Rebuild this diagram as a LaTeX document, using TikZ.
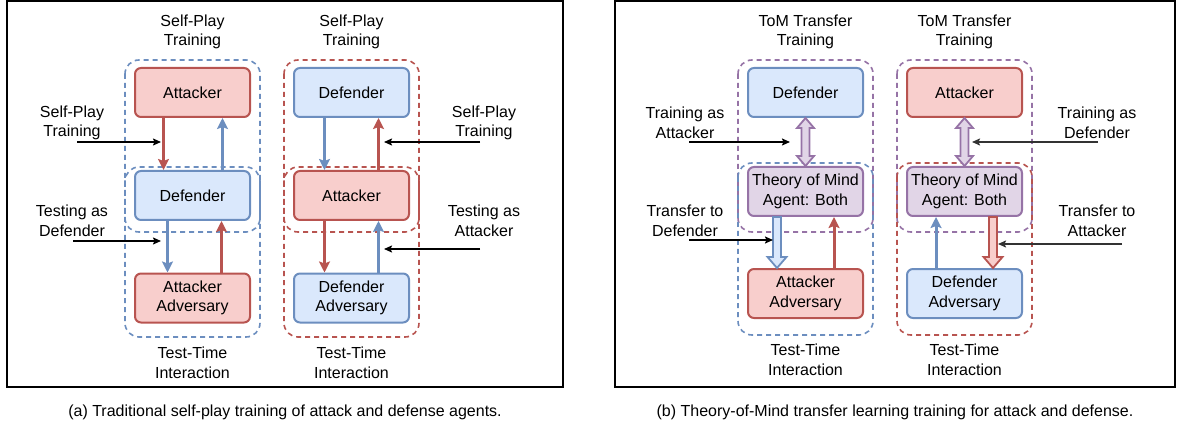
\documentclass[tikz,border=0pt]{standalone}
\usepackage{fontspec}
\setmainfont{Liberation Sans}
\usetikzlibrary{arrows.meta,calc}
\definecolor{redF}{HTML}{F8CECC}
\definecolor{redD}{HTML}{B85450}
\definecolor{blueF}{HTML}{DAE8FC}
\definecolor{blueD}{HTML}{6C8EBF}
\definecolor{purF}{HTML}{E1D5E7}
\definecolor{purD}{HTML}{9673A6}
\newcommand\hollowdown[3]{%
  \draw[#3] let \p1=(#1), \p2=(#2) in
   (\x1-4pt,\y1) -- (\x1-4pt,\y2+11pt) -- (\x1-9.5pt,\y2+11pt) -- (\x1,\y2)
   -- (\x1+9.5pt,\y2+11pt) -- (\x1+4pt,\y2+11pt) -- (\x1+4pt,\y1) -- cycle;}
\newcommand\hollowboth[3]{%
  \draw[#3] let \p1=(#1), \p2=(#2) in
   (\x1,\y1) -- (\x1+8.5pt,\y1-10pt) -- (\x1+4pt,\y1-10pt) -- (\x1+4pt,\y2+10pt)
   -- (\x1+8.5pt,\y2+10pt) -- (\x1,\y2) -- (\x1-8.5pt,\y2+10pt) -- (\x1-4pt,\y2+10pt)
   -- (\x1-4pt,\y1-10pt) -- (\x1-8.5pt,\y1-10pt) -- cycle;}
\begin{document}
\begin{tikzpicture}[x=1pt,y=-1pt,
  txt/.style={font=\fontsize{16}{19.5}\selectfont, align=center, inner sep=0pt},
  agent/.style={txt, rounded corners=6pt, line width=2pt, minimum width=115pt, minimum height=49pt},
  redbox/.style={agent, fill=redF, draw=redD},
  bluebox/.style={agent, fill=blueF, draw=blueD},
  purbox/.style={agent, fill=purF, draw=purD},
  grp/.style={line width=1.6pt, dash pattern=on 5pt off 4pt, rounded corners=14pt},
  flow/.style={line width=3pt, -{Stealth[length=11pt,width=11pt,inset=2pt]}},
  lbl/.style={line width=1.6pt, -{Stealth[length=8pt,width=7pt,inset=1.5pt]}},
  hollowR/.style={line width=1.8pt, draw=redD, fill=redF},
  hollowB/.style={line width=1.8pt, draw=blueD, fill=blueF},
  hollowP/.style={line width=1.8pt, draw=purD, fill=purF}
]
\useasboundingbox (0,0) rectangle (1177,430);
% panel frames
\draw[line width=2pt] (7,1) rectangle (563,387);
\draw[line width=2pt] (615,1) rectangle (1175,387);

% groups
\draw[grp, blueD] (125,60) rectangle (260,232);
\draw[grp, blueD] (125,167) rectangle (260,337);
\draw[grp, redD] (284,60) rectangle (419,232);
\draw[grp, redD] (284,167) rectangle (419,337);
\draw[grp, purD] (738,60) rectangle (873,232);
\draw[grp, blueD] (738,163) rectangle (873,335);
\draw[grp, purD] (897,60) rectangle (1032,232);
\draw[grp, redD] (897,163) rectangle (1032,335);

% column 1
\node[redbox] (att1) at (192.5,92.5) {Attacker};
\node[bluebox] (def1) at (192.5,195.5) {Defender};
\node[redbox] (adv1) at (192.5,298) {Attacker\\Adversary};
\node[txt] (sp1) at (192.5,32) {Self-Play\\Training};
\node[txt] (tt1) at (192.5,363) {Test-Time\\Interaction};
\draw[flow, redD] ($(att1.south)+(-29,0)$) -- ($(def1.north)+(-29,0)$);
\draw[flow, blueD] ($(def1.north)+(30,0)$) -- ($(att1.south)+(30,0)$);
\draw[flow, blueD] ($(def1.south)+(-25,0)$) -- ($(adv1.north)+(-25,0)$);
\draw[flow, redD] ($(adv1.north)+(29,0)$) -- ($(def1.south)+(29,0)$);
\node[txt] (l1a) at (72,123) {Self-Play\\Training};
\node[txt] (l1b) at (72,221) {Testing as\\Defender};
\coordinate (s1a) at (77,142);
\coordinate (e1a) at (161,142);
\coordinate (s1b) at (73,241);
\coordinate (e1b) at (161,241);
\draw[lbl] (s1a) -- (e1a);
\draw[lbl] (s1b) -- (e1b);

% column 2
\node[bluebox] (def2) at (351.5,92.5) {Defender};
\node[redbox] (att2) at (351.5,195.5) {Attacker};
\node[bluebox] (adv2) at (351.5,298) {Defender\\Adversary};
\node[txt] (sp2) at (351.5,32) {Self-Play\\Training};
\node[txt] (tt2) at (351.5,363) {Test-Time\\Interaction};
\draw[flow, blueD] ($(def2.south)+(-27,0)$) -- ($(att2.north)+(-27,0)$);
\draw[flow, redD] ($(att2.north)+(27,0)$) -- ($(def2.south)+(27,0)$);
\draw[flow, redD] ($(att2.south)+(-27,0)$) -- ($(adv2.north)+(-27,0)$);
\draw[flow, blueD] ($(adv2.north)+(27,0)$) -- ($(att2.south)+(27,0)$);
\node[txt] (l2a) at (484,123) {Self-Play\\Training};
\node[txt] (l2b) at (484,221) {Testing as\\Attacker};
\coordinate (s2a) at (480,142);
\coordinate (e2a) at (384,142);
\coordinate (s2b) at (480,249);
\coordinate (e2b) at (384,249);
\draw[lbl] (s2a) -- (e2a);
\draw[lbl] (s2b) -- (e2b);

% column 3
\node[bluebox] (def3) at (805.5,92.5) {Defender};
\node[purbox] (tom3) at (805.5,191.5) {Theory of Mind\\Agent: Both};
\node[redbox] (adv3) at (805.5,293.5) {Attacker\\Adversary};
\node[txt] (tr3) at (805.5,32) {ToM Transfer\\Training};
\node[txt] (tt3) at (805.5,360) {Test-Time\\Interaction};
\hollowboth{def3.south}{tom3.north}{hollowP}
\hollowdown{$(tom3.south)+(-28.5,0)$}{$(adv3.north)+(-28.5,0)$}{hollowB}
\draw[flow, redD] ($(adv3.north)+(28.5,0)$) -- ($(tom3.south)+(28.5,0)$);
\node[txt] (l3a) at (685,123) {Training as\\Attacker};
\node[txt] (l3b) at (685,221) {Transfer to\\Defender};
\coordinate (s3a) at (689,142);
\coordinate (e3a) at (790,142);
\coordinate (s3b) at (689,240);
\coordinate (e3b) at (773,240);
\draw[lbl] (s3a) -- (e3a);
\draw[lbl] (s3b) -- (e3b);

% column 4
\node[redbox] (att4) at (964.5,92.5) {Attacker};
\node[purbox] (tom4) at (964.5,191.5) {Theory of Mind\\Agent: Both};
\node[bluebox] (adv4) at (964.5,293.5) {Defender\\Adversary};
\node[txt] (tr4) at (964.5,32) {ToM Transfer\\Training};
\node[txt] (tt4) at (964.5,360) {Test-Time\\Interaction};
\hollowboth{att4.south}{tom4.north}{hollowP}
\draw[flow, blueD] ($(adv4.north)+(-28.5,0)$) -- ($(tom4.south)+(-28.5,0)$);
\hollowdown{$(tom4.south)+(28.5,0)$}{$(adv4.north)+(28.5,0)$}{hollowR}
\node[txt] (l4a) at (1097,123) {Training as\\Defender};
\node[txt] (l4b) at (1097,221) {Transfer to\\Attacker};
\coordinate (s4a) at (1098,142);
\coordinate (e4a) at (972,142);
\coordinate (s4b) at (1122,244);
\coordinate (e4b) at (998,244);
\draw[lbl, black!80] (s4a) -- (e4a);
\draw[lbl, black!80] (s4b) -- (e4b);

% captions
\node[txt] (capa) at (285,412) {(a) Traditional self-play training of attack and defense agents.};
\node[txt] (capb) at (895,412) {(b) Theory-of-Mind transfer learning training for attack and defense.};
\end{tikzpicture}
\end{document}
